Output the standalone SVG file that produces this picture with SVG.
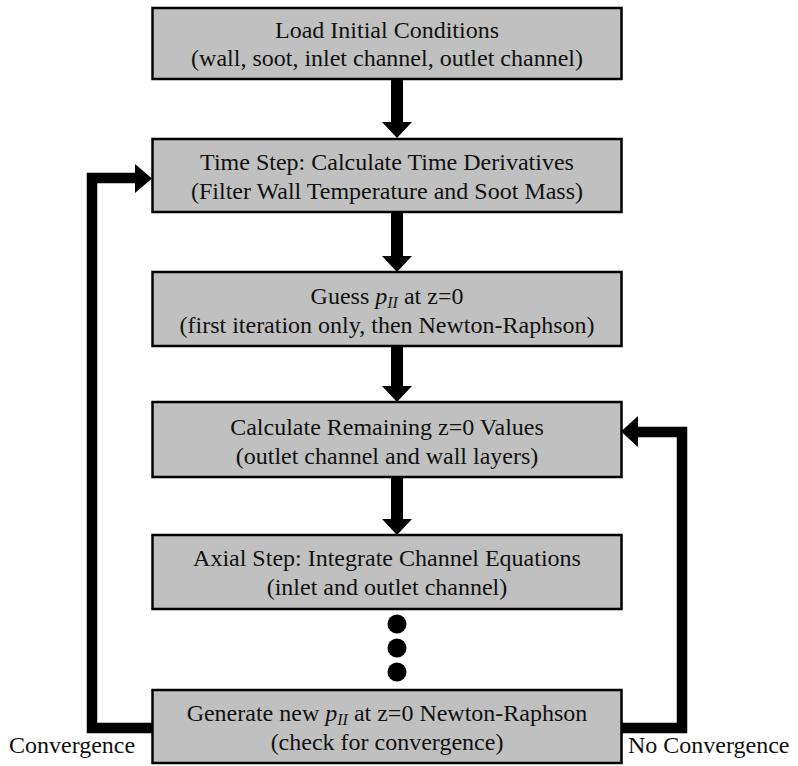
<svg xmlns="http://www.w3.org/2000/svg" width="798" height="766" viewBox="0 0 798 766">
<style>
.box{fill:#c0c0c0;stroke:#000;stroke-width:2.5}
.t{font-family:"Liberation Serif","Times New Roman",serif;font-size:24px;fill:#111;text-anchor:middle}
.lbl{font-family:"Liberation Serif","Times New Roman",serif;font-size:24px;fill:#111}
.ln{fill:none;stroke:#000;stroke-width:10.5;stroke-linejoin:miter}
.i{font-style:italic}
.sub{font-style:italic;font-size:16px}
</style>
<rect width="798" height="766" fill="#fff"/>
<g id="connectors">
  <g id="arrow1"><rect x="391" y="79" width="12" height="44" fill="#000"/><polygon points="382,122 412,122 397,138" fill="#000"/></g>
  <g id="arrow2"><rect x="391" y="212" width="12" height="45" fill="#000"/><polygon points="382,256 412,256 397,272" fill="#000"/></g>
  <g id="arrow3"><rect x="391" y="346" width="12" height="41" fill="#000"/><polygon points="382,386 412,386 397,402" fill="#000"/></g>
  <g id="arrow4"><rect x="391" y="477" width="12" height="43" fill="#000"/><polygon points="382,519 412,519 397,535" fill="#000"/></g>
  <g id="loop-left"><polyline class="ln" points="152,728 92,728 92,178 136,178"/><polygon points="135,164 135,193 152,178.5" fill="#000"/></g>
  <g id="loop-right"><polyline class="ln" points="621,728 682,728 682,432 637,432"/><polygon points="638,416 638,447 621,431.5" fill="#000"/></g>
  <g id="dots"><circle cx="397" cy="624" r="9.5" fill="#000"/><circle cx="397" cy="648" r="9.5" fill="#000"/><circle cx="397" cy="672" r="9.5" fill="#000"/></g>
</g>
<g id="n1"><rect class="box" x="152.5" y="8" width="469" height="71"/>
<text class="t" x="387" y="38">Load Initial Conditions</text>
<text class="t" x="387" y="66">(wall, soot, inlet channel, outlet channel)</text></g>
<g id="n2"><rect class="box" x="152.5" y="139" width="469" height="73"/>
<text class="t" x="387" y="170">Time Step: Calculate Time Derivatives</text>
<text class="t" x="387" y="199">(Filter Wall Temperature and Soot Mass)</text></g>
<g id="n3"><rect class="box" x="152.5" y="272" width="469" height="74"/>
<text class="t" x="387" y="304">Guess <tspan class="i">p</tspan><tspan class="sub" dy="4">II</tspan><tspan dy="-4"> at z=0</tspan></text>
<text class="t" x="387" y="333">(first iteration only, then Newton-Raphson)</text></g>
<g id="n4"><rect class="box" x="152.5" y="402" width="469" height="75"/>
<text class="t" x="387" y="435">Calculate Remaining z=0 Values</text>
<text class="t" x="387" y="464">(outlet channel and wall layers)</text></g>
<g id="n5"><rect class="box" x="152.5" y="535" width="469" height="74"/>
<text class="t" x="387" y="566">Axial Step: Integrate Channel Equations</text>
<text class="t" x="387" y="595">(inlet and outlet channel)</text></g>
<g id="n6"><rect class="box" x="152.5" y="690" width="469" height="73"/>
<text class="t" x="387" y="721">Generate new <tspan class="i">p</tspan><tspan class="sub" dy="4">II</tspan><tspan dy="-4"> at z=0 Newton-Raphson</tspan></text>
<text class="t" x="387" y="750">(check for convergence)</text></g>
<text class="lbl" x="9" y="753">Convergence</text>
<text class="lbl" x="628" y="753">No Convergence</text>
</svg>
